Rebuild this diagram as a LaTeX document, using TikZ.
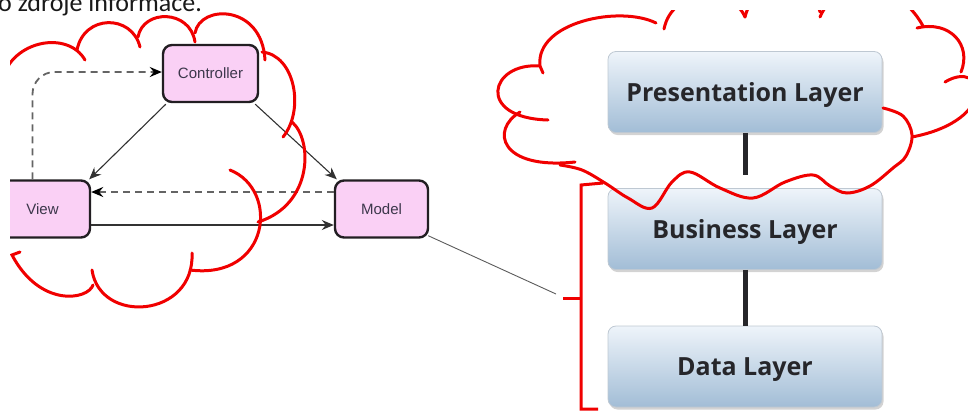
\documentclass[tikz,border=0pt]{standalone}
\usepackage{fontspec}
\setmainfont{Liberation Sans}
\newfontfamily\layerfont{Open Sans}
\newfontfamily\topfont{Carlito}
\usetikzlibrary{arrows.meta,shadows}
\definecolor{pinkfill}{RGB}{250,208,245}
\definecolor{boxedge}{RGB}{34,30,34}
\definecolor{mvctext}{RGB}{60,55,75}
\definecolor{linegray}{RGB}{50,50,50}
\definecolor{dashgray}{RGB}{100,100,100}
\definecolor{cloudred}{RGB}{240,0,0}
\definecolor{layertop}{RGB}{238,244,250}
\definecolor{layerbot}{RGB}{162,189,214}
\definecolor{layeredge}{RGB}{190,200,210}
\definecolor{layertext}{RGB}{38,38,42}
\definecolor{toptext}{RGB}{25,25,25}
\begin{document}
\begin{tikzpicture}[x=1pt,y=-1pt,
  mvcbox/.style={draw=boxedge, line width=2.4pt, fill=pinkfill, rounded corners=9pt,
    minimum height=57pt, inner sep=0pt, font=\fontsize{15}{18}\selectfont, text=mvctext},
  layerbox/.style={draw=layeredge, line width=0.8pt, rounded corners=8pt,
    top color=layertop, bottom color=layerbot, minimum width=274pt, minimum height=81pt,
    text depth=0pt,
    drop shadow={shadow xshift=1.5pt, shadow yshift=-2.5pt, opacity=0.35},
    font=\layerfont\bfseries\fontsize{25}{30}\selectfont, text=layertext},
  mvcarrow/.style={draw=linegray, line width=1.1pt, -{Stealth[length=12pt,width=10pt,inset=4pt]}},
  mvcdash/.style={draw=dashgray, line width=1.8pt, dash pattern=on 7pt off 5pt,
    -{Stealth[length=12pt,width=10pt,inset=4pt,fill=black,color=black]}},
  layerline/.style={draw=layertext, line width=5pt},
  thinline/.style={draw=linegray!80, line width=0.9pt},
  cloud/.style={draw=cloudred, line width=3pt, line cap=round},
]
\useasboundingbox (0,0) rectangle (968,410);
\node[anchor=base west, inner sep=0pt, font=\topfont\fontsize{26}{30}\selectfont, text=toptext] (toptxt) at (-2,11.5) {o zdroje informace.};

\begin{scope}
\clip (10,10) rectangle (968,410);
% MVC
\node[mvcbox, minimum width=95pt] (C) at (210.5,73.5) {Controller};
\node[mvcbox, minimum width=95pt] (V) at (42.5,209) {View};
\node[mvcbox, minimum width=93pt] (M) at (381.5,209) {Model};
\draw[mvcarrow] ([xshift=4pt,yshift=-1pt]C.south west) -- ([xshift=-2pt]V.north east);
\draw[mvcarrow] ([xshift=-4pt,yshift=-1pt]C.south east) -- ([xshift=3pt]M.north west);
\draw[mvcdash] ([yshift=17pt]M.west) -- ([yshift=17pt]V.east);
\draw[mvcarrow] ([yshift=-16pt]V.east) -- ([yshift=-16pt]M.west);
\draw[mvcdash, rounded corners=22pt] ([xshift=-10pt]V.north) |- ([yshift=1.5pt]C.west);

% layers
\node[layerbox] (P) at (745,92) {Presentation Layer};
\node[layerbox] (B) at (745,229) {Business Layer};
\node[layerbox] (D) at (745,366.5) {Data Layer};
\draw[layerline] (P.south) -- ([yshift=13pt]B.north);
\draw[layerline] (B.south) -- (D.north);

% link Model -> bracket
\coordinate (lend) at (556,294);
\draw[thinline] ([xshift=-1pt,yshift=3pt]M.south east) -- (lend);

% bracket
\draw[cloud, line cap=butt] (603,183) -- (581,185) -- (581,409) -- (598,409);
\draw[cloud, line cap=butt] (563,298) -- (581,298);

% left cloud
\draw[cloud] (2,80) .. controls (12,40) and (68,30) .. (85,60);
\draw[cloud] (77,50) .. controls (84,14) and (132,14) .. (140,47);
\draw[cloud] (138,37) .. controls (143,9) and (190,9) .. (195,42);
\draw[cloud] (195,33) .. controls (200,4) and (262,4) .. (265,60);
\draw[cloud] (262,52) .. controls (295,55) and (305,110) .. (283,137);
\draw[cloud] (292,122) .. controls (313,140) and (313,205) .. (258,222);
\draw[cloud] (230,170) .. controls (280,190) and (270,280) .. (190,270);
\draw[cloud] (192,253) .. controls (195,318) and (100,325) .. (92,270);
\draw[cloud] (93,285) .. controls (88,300) and (40,308) .. (12,255) -- (20,252);

% right cloud
\draw[cloud] (543,73) -- (540,66) .. controls (535,22) and (620,5) .. (656,23);
\draw[cloud] (664,29) .. controls (672,-12) and (732,-14) .. (745,17);
\draw[cloud] (745,17) .. controls (755,-25) and (812,-25) .. (820,12);
\draw[cloud] (820,17) .. controls (835,-20) and (895,-25) .. (923,26);
\draw[cloud] (917,28) .. controls (950,20) and (972,45) .. (961,72);
\draw[cloud] (945,82) .. controls (985,58) and (1000,120) .. (912,137);
\draw[cloud] plot[smooth, tension=0.6] coordinates {(883,108) (903,116) (912,135) (906,156) (893,168) (870,186) (847,193) (830,186) (813,175) (785,182) (753,198) (720,188) (690,172) (672,182) (652,208) (628,198) (605,183) (582,170) (560,165)};
\draw[cloud] (520,112) .. controls (490,130) and (500,170) .. (575,162);
\draw[cloud] (540,66) .. controls (490,62) and (475,118) .. (548,120);
\end{scope}
\end{tikzpicture}
\end{document}
